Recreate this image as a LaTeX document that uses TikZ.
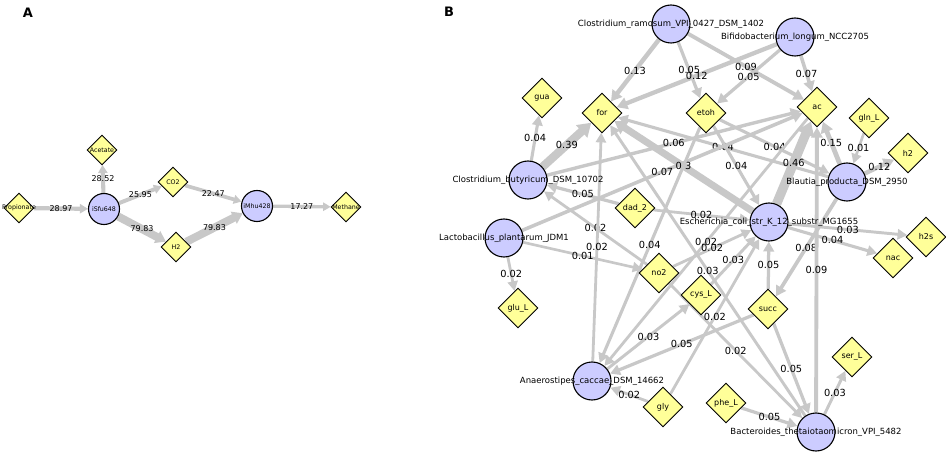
\documentclass[tikz,border=0pt]{standalone}
\usepackage{fontspec}
\setmainfont{DejaVu Sans}
\usetikzlibrary{shapes.geometric,arrows.meta}
\pgfdeclarelayer{edgelayer}
\pgfsetlayers{edgelayer,main}
\definecolor{edgegray}{RGB}{200,200,200}
\definecolor{spfill}{RGB}{204,204,255}
\definecolor{metfill}{RGB}{255,255,153}
\begin{document}
\begin{tikzpicture}[x=1pt,y=-1pt,
  sp/.style={circle,draw=black,line width=1.1pt,fill=spfill,minimum size=38pt,inner sep=0pt},
  spl/.style={font=\fontsize{8.5}{9}\selectfont,inner sep=0pt},
  met/.style={diamond,draw=black,line width=0.9pt,fill=metfill,minimum width=40pt,minimum height=40pt,inner sep=0pt,font=\fontsize{8}{9}\selectfont},
  spA/.style={sp,minimum size=31pt},
  metA/.style={met,minimum width=30pt,minimum height=30pt},
  labA/.style={font=\fontsize{6.3}{7}\selectfont,inner sep=0pt},
  ed/.style={draw=edgegray,line width=#1,-{Triangle[length=8pt 0.6,width=7pt 1.1]}},
  edA/.style={draw=edgegray,line width=#1,-{Triangle[length=6pt 0.5,width=5pt 1]}},
  elab/.style={font=\fontsize{9.8}{10}\selectfont,inner sep=0pt},
  elabA/.style={font=\fontsize{8}{9}\selectfont,inner sep=0pt},
  panel/.style={font=\bfseries\fontsize{13}{14}\selectfont,inner sep=0pt}]
\useasboundingbox (0,0) rectangle (946,457);

% ---------- Panel A ----------
\node[panel] (pa) at (28,13) {A};
\node[spA, label={[labA]center:iSfu648}] (sfu) at (104,209) {};
\node[spA, label={[labA]center:iMhu428}] (mhu) at (257,206) {};
\node[metA, label={[labA]center:Acetate}] (acet) at (102,150) {};
\node[metA, label={[labA]center:Propionate}] (prop) at (19,208) {};
\node[metA, label={[labA]center:CO2}] (co2) at (173,182) {};
\node[metA, label={[labA]center:H2}] (h2a) at (176,247) {};
\node[metA, label={[labA]center:Methane}] (meth) at (346,207) {};

\begin{pgfonlayer}{edgelayer}
\draw[edA=4.2pt] (prop) -- node[elabA]{28.97} (sfu);
\draw[edA=4.1pt] (sfu) -- node[elabA]{28.52} (acet);
\draw[edA=3.95pt] (sfu) -- node[elabA]{25.95} (co2);
\draw[edA=8pt] (sfu) -- node[elabA]{79.83} (h2a);
\draw[edA=3.7pt] (co2) -- node[elabA]{22.47} (mhu);
\draw[edA=8pt] (h2a) -- node[elabA]{79.83} (mhu);
\draw[edA=3.3pt] (mhu) -- node[elabA]{17.27} (meth);
\end{pgfonlayer}

% ---------- Panel B ----------
\node[panel] (pb) at (449,12) {B};
\node[sp, label={[spl]center:Clostridium\_ramosum\_VPI\_0427\_DSM\_1402}] (cram) at (671,24) {};
\node[sp, label={[spl]center:Bifidobacterium\_longum\_NCC2705}] (bifi) at (795,37) {};
\node[sp, label={[spl]center:Clostridium\_butyricum\_DSM\_10702}] (cbut) at (528,180) {};
\node[sp, label={[spl]center:Lactobacillus\_plantarum\_JDM1}] (lact) at (504,238) {};
\node[sp, label={[spl]center:Blautia\_producta\_DSM\_2950}] (blau) at (847,182) {};
\node[sp, label={[spl]center:Escherichia\_coli\_str\_K\_12\_substr\_MG1655}] (ecoli) at (769,222) {};
\node[sp, label={[spl]center:Anaerostipes\_caccae\_DSM\_14662}] (anae) at (592,381) {};
\node[sp, label={[spl]center:Bacteroides\_thetaiotaomicron\_VPI\_5482}] (bact) at (816,432) {};

\node[met] (gua) at (542,98) {gua};
\node[met] (form) at (602,113) {for};
\node[met] (etoh) at (706,113) {etoh};
\node[met] (ac) at (817,107) {ac};
\node[met] (gln) at (869,118) {gln\_L};
\node[met] (htwo) at (908,153) {h2};
\node[met] (dad) at (635,208) {dad\_2};
\node[met] (hts) at (926,237) {h2s};
\node[met] (nac) at (893,258) {nac};
\node[met] (notwo) at (659,273) {no2};
\node[met] (cys) at (701,295) {cys\_L};
\node[met] (succ) at (768,309) {succ};
\node[met] (glu) at (518,308) {glu\_L};
\node[met] (gly) at (663,407) {gly};
\node[met] (phe) at (726,403) {phe\_L};
\node[met] (ser) at (852,357) {ser\_L};

\begin{pgfonlayer}{edgelayer}
\draw[ed=4.45pt] (cram) -- node[elab]{0.13} (form);
\draw[ed=3.25pt] (cram) -- node[elab]{0.05} (etoh);
\draw[ed=3.85pt] (cram) -- node[elab]{0.09} (ac);
\draw[ed=4.3pt] (bifi) -- node[elab]{0.12} (form);
\draw[ed=3.25pt] (bifi) -- node[elab]{0.05} (etoh);
\draw[ed=3.55pt] (bifi) -- node[elab]{0.07} (ac);
\draw[ed=3.1pt] (cbut) -- node[elab]{0.04} (gua);
\draw[ed=8.35pt] (cbut) -- node[elab]{0.39} (form);
\draw[ed=3.4pt] (cbut) -- node[elab]{0.06} (ac);
\draw[ed=3.1pt] (blau) -- node[elab]{0.04} (form);
\draw[ed=3.1pt] (etoh) -- node[elab]{0.04} (blau);
\draw[ed=3.1pt] (etoh) -- node[elab]{0.04} (ecoli);
\draw[ed=9.4pt] (ecoli) -- node[elab]{0.46} (ac);
\draw[ed=4.75pt] (blau) -- node[elab]{0.15} (ac);
\draw[ed=2.65pt] (gln) -- node[elab]{0.01} (blau);
\draw[ed=4.3pt] (blau) -- node[elab]{0.12} (htwo);
\draw[ed=2.95pt] (ecoli) -- node[elab]{0.03} (hts);
\draw[ed=3.1pt] (ecoli) -- node[elab]{0.04} (nac);
\draw[ed=3.7pt] (blau) -- node[elab]{0.08} (succ);
\draw[ed=3.85pt] (bact) -- node[elab]{0.09} (ac);
\draw[ed=3.25pt] (succ) -- node[elab]{0.05} (ecoli);
\draw[ed=2.8pt] (dad) -- node[elab]{0.02} (ecoli);
\draw[ed=3.25pt] (dad) -- node[elab]{0.05} (cbut);
\draw[ed=2.8pt] (notwo) -- node[elab]{0.02} (cbut);
\draw[ed=3.55pt] (lact) -- node[elab]{0.07} (ac);
\draw[ed=7pt] (ecoli) -- node[elab]{0.3} (form);
\draw[ed=3.1pt] (etoh) -- node[elab]{0.04} (anae);
\draw[ed=2.8pt] (anae) -- node[elab]{0.02} (form);
\draw[ed=2.95pt] (anae) -- node[elab]{0.03} (cys);
\draw[ed=3.25pt] (succ) -- node[elab]{0.05} (anae);
\draw[ed=2.8pt] (ac) -- node[elab]{0.02} (anae);
\draw[ed=2.8pt] (notwo) -- node[elab]{0.02} (ecoli);
\draw[ed=2.95pt] (cys) -- node[elab]{0.03} (ecoli);
\draw[ed=2.95pt] (bact) -- node[elab]{0.03} (form);
\draw[ed=2.8pt] (notwo) -- node[elab]{0.02} (bact);
\draw[ed=2.8pt] (gly) -- node[elab]{0.02} (ecoli);
\draw[ed=3.25pt] (succ) -- node[elab]{0.05} (bact);
\draw[ed=2.65pt] (lact) -- node[elab]{0.01} (notwo);
\draw[ed=2.8pt] (lact) -- node[elab]{0.02} (glu);
\draw[ed=2.95pt] (bact) -- node[elab]{0.03} (ser);
\draw[ed=3.25pt] (phe) -- node[elab]{0.05} (bact);
\draw[ed=2.8pt] (gly) -- node[elab]{0.02} (anae);
\end{pgfonlayer}
\end{tikzpicture}
\end{document}
